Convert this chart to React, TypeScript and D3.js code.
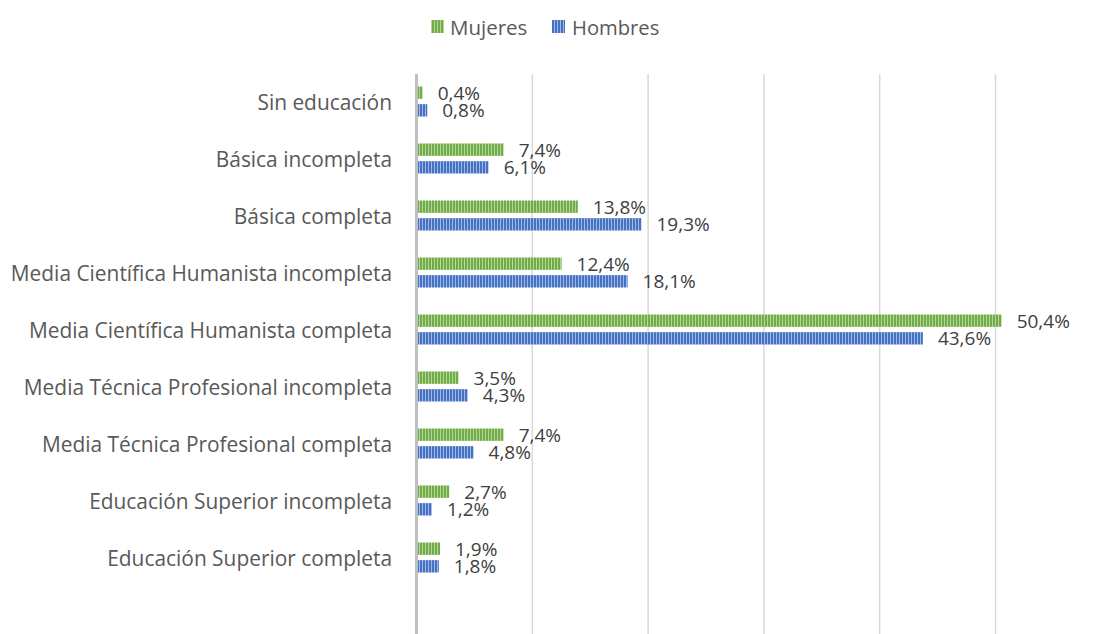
import React from "react";
import * as d3 from "d3";

const categories = [
  "Sin educación",
  "Básica incompleta",
  "Básica completa",
  "Media Científica Humanista incompleta",
  "Media Científica Humanista completa",
  "Media Técnica Profesional incompleta",
  "Media Técnica Profesional completa",
  "Educación Superior incompleta",
  "Educación Superior completa",
];
const mujeres = [0.4, 7.4, 13.8, 12.4, 50.4, 3.5, 7.4, 2.7, 1.9];
const hombres = [0.8, 6.1, 19.3, 18.1, 43.6, 4.3, 4.8, 1.2, 1.8];
const seriesNames = ["Mujeres", "Hombres"];
const gridTicks = [10, 20, 30, 40, 50, 60];

const W = 1099;
const H = 634;
const FONT = "'Open Sans', 'Noto Sans', sans-serif";

const fmt = (v: number) => v.toFixed(1).replace(".", ",") + "%";

export default function App() {
  const x = d3.scaleLinear().domain([0, 60]).range([416.5, 416.5 + 6 * 115.8]);
  const y = d3.scaleBand<string>().domain(categories).range([74, 74 + 9 * 57]);
  const bw = y.bandwidth();
  const inner = d3
    .scaleBand<string>()
    .domain(seriesNames)
    .range([bw / 2 - 16, bw / 2 + 14])
    .paddingInner(0.3);

  const series = [
    { name: "Mujeres", values: mujeres, pat: "pat-green" },
    { name: "Hombres", values: hombres, pat: "pat-blue" },
  ];

  return (
    <div style={{ position: "absolute", left: 0, top: 0 }}>
      <svg width={W} height={H} style={{ display: "block", background: "#fff" }} fontFamily={FONT}>
        <defs>
          <pattern id="pat-green" width={3} height={4} patternUnits="userSpaceOnUse">
            <rect width={3} height={4} fill="#70ad47" />
            <rect x={2} width={1} height={4} fill="#b4d69c" />
          </pattern>
          <pattern id="pat-blue" width={3} height={4} patternUnits="userSpaceOnUse">
            <rect width={3} height={4} fill="#4472c4" />
            <rect x={2} width={1} height={4} fill="#a2b8e2" />
          </pattern>
        </defs>

        {/* gridlines */}
        {gridTicks.map((t) => (
          <line key={t} x1={x(t)} x2={x(t)} y1={74} y2={H} stroke="#d9d9d9" strokeWidth={1.5} />
        ))}
        {/* category axis */}
        <line x1={x(0)} x2={x(0)} y1={74} y2={H} stroke="#bfbfbf" strokeWidth={3} />

        {/* bars */}
        {series.map((s) =>
          categories.map((c, i) => {
            const yy = (y(c) ?? 0) + (inner(s.name) ?? 0);
            const h = inner.bandwidth();
            const v = s.values[i];
            return (
              <g key={s.name + c}>
                <rect x={x(0) + 1.5} y={yy} width={x(v) - x(0)} height={h} fill={`url(#${s.pat})`} />
                <text
                  x={x(v) + 1.5 + 15}
                  y={yy + h / 2}
                  dominantBaseline="central"
                  fontSize={19}
                  fill="#404040"
                >
                  {fmt(v)}
                </text>
              </g>
            );
          })
        )}

        {/* category labels */}
        {categories.map((c) => (
          <text
            key={c}
            x={392}
            y={(y(c) ?? 0) + bw / 2 - 0.5}
            textAnchor="end"
            dominantBaseline="central"
            fontSize={20.9}
            fill="#595959"
          >
            {c}
          </text>
        ))}

        {/* legend */}
        <g>
          <rect x={431} y={20} width={13} height={13} fill="url(#pat-green)" />
          <text x={450} y={27} dominantBaseline="central" fontSize={20.5} fill="#595959">
            Mujeres
          </text>
          <rect x={552} y={20} width={13} height={13} fill="url(#pat-blue)" />
          <text x={572} y={27} dominantBaseline="central" fontSize={20.2} fill="#595959">
            Hombres
          </text>
        </g>
      </svg>
    </div>
  );
}
